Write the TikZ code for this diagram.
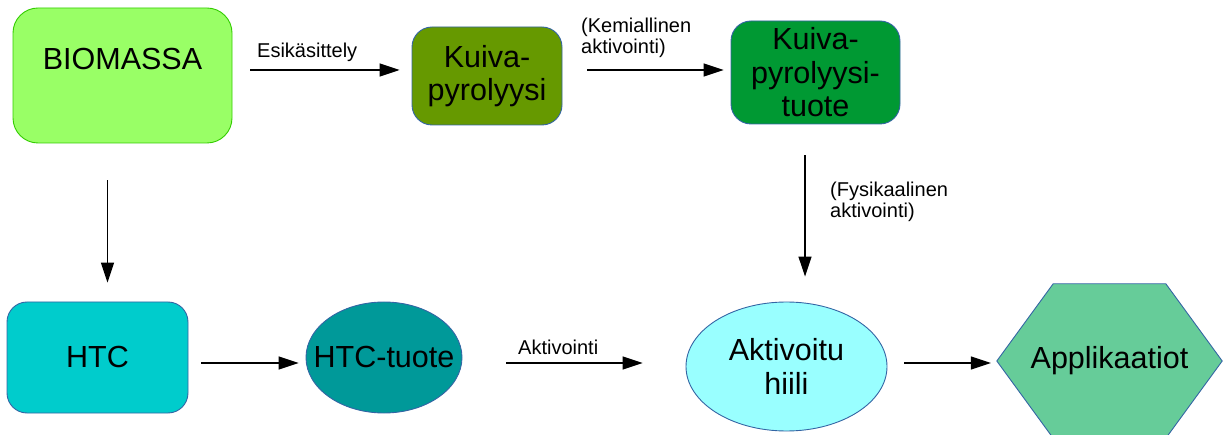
\documentclass[tikz,border=0pt]{standalone}
\usepackage{fontspec}
\setmainfont{Liberation Sans}
\usetikzlibrary{arrows.meta, calc, shapes.geometric, backgrounds}

\definecolor{biofill}{HTML}{99FF66}
\definecolor{bioedge}{HTML}{33CC00}
\definecolor{kpfill}{HTML}{669900}
\definecolor{kptfill}{HTML}{009933}
\definecolor{htcfill}{HTML}{00CCCC}
\definecolor{htctfill}{HTML}{009999}
\definecolor{aktfill}{HTML}{99FFFF}
\definecolor{applfill}{HTML}{66CC99}
\definecolor{edgeblue}{HTML}{3465A4}

\begin{document}
\begin{tikzpicture}[x=1pt, y=-1pt, >={Triangle[length=20pt,width=13pt]},
		bigtext/.style={font=\fontsize{30.5}{33.5}\selectfont, align=center},
		smalltext/.style={font=\fontsize{20}{21}\selectfont, align=left, inner sep=0pt},
		stagebox/.style={bigtext, draw=edgeblue, line width=0.9pt, rounded corners=20pt, inner sep=0pt},
		stageoval/.style={bigtext, ellipse, draw=edgeblue, line width=0.9pt, inner sep=0pt},
		flow/.style={->, line width=1.2pt}]
			
			% Frame
			\useasboundingbox (0,0) rectangle (1223,435);
			
			% Upper row
			\node[stagebox, fill=biofill, draw=bioedge, rounded corners=25pt, minimum width=219pt, minimum height=135pt, text depth=34pt] (bio) at (122.5,75.5) {BIOMASSA};
			\node[stagebox, fill=kpfill, minimum width=150pt, minimum height=98pt] (kp) at (487,76) {Kuiva-\\pyrolyysi};
			\node[stagebox, fill=kptfill, minimum width=169pt, minimum height=103pt] (kpt) at (815.5,72.5) {Kuiva-\\pyrolyysi-\\tuote};
			
			% Lower row
			\node[stagebox, fill=htcfill, minimum width=181pt, minimum height=111pt] (htc) at (97.5,357.5) {HTC};
			\node[stageoval, fill=htctfill, minimum width=156pt, minimum height=111pt] (htct) at (384,357.5) {\makebox[0pt]{HTC-tuote}};
			\node[stageoval, fill=aktfill, minimum width=201pt, minimum height=129pt] (akt) at (786.5,366.5) {\makebox[0pt]{Aktivoitu}\\\makebox[0pt]{hiili}};
			\node[bigtext, inner sep=0pt, minimum width=225pt, minimum height=154pt] (appl) at (1109.5,361) {Applikaatiot};
			
			% Hexagon behind Applikaatiot
			\begin{scope}[on background layer]
				\draw[fill=applfill, draw=edgeblue, line width=0.9pt] (appl.west) -- ($(appl.north west)!0.25!(appl.north east)$) -- ($(appl.north west)!0.75!(appl.north east)$) -- (appl.east) -- ($(appl.south west)!0.75!(appl.south east)$) -- ($(appl.south west)!0.25!(appl.south east)$) -- cycle;
			\end{scope}
			
			% Arrows
			\draw[flow, shorten <=18pt, shorten >=12pt] ([yshift=5.5pt]bio.east) -- ([yshift=5.5pt]bio.east -| kp.west);
			\draw[flow, shorten <=25pt, shorten >=7pt] ([yshift=6pt]kp.east) -- ([yshift=6pt]kp.east -| kpt.west);
			\draw[flow, shorten <=37pt, shorten >=19pt] ([xshift=-15pt]bio.south) -- ([xshift=-15pt]bio.south |- htc.north);
			\draw[flow, shorten <=31pt, shorten >=25pt] ([xshift=-10.5pt]kpt.south) -- ([xshift=-10.5pt]kpt.south |- akt.north);
			\draw[flow, shorten <=13pt, shorten >=7pt] ([yshift=-5.5pt]htc.east) -- ([yshift=-5.5pt]htc.east -| htct.west);
			\draw[flow, shorten <=44pt, shorten >=43pt] ([yshift=-5.5pt]htct.east) -- ([yshift=-5.5pt]htct.east -| akt.west);
			\draw[flow, shorten <=17pt, shorten >=6pt] ([yshift=3.5pt]akt.east) -- ([yshift=3.5pt]akt.east -| appl.west);
			
			% Arrow labels (base = last line)
			\node[smalltext, anchor=base west] (esik) at (257,58) {Esikäsittely};
			\node[smalltext, anchor=base west] (kem) at (581,54) {(Kemiallinen\\aktivointi)};
			\node[smalltext, anchor=base west] (fys) at (830,218) {(Fysikaalinen\\aktivointi)};
			\node[smalltext, anchor=base west] (aktiv) at (518,355) {Aktivointi};
			
		\end{tikzpicture}
\end{document}
